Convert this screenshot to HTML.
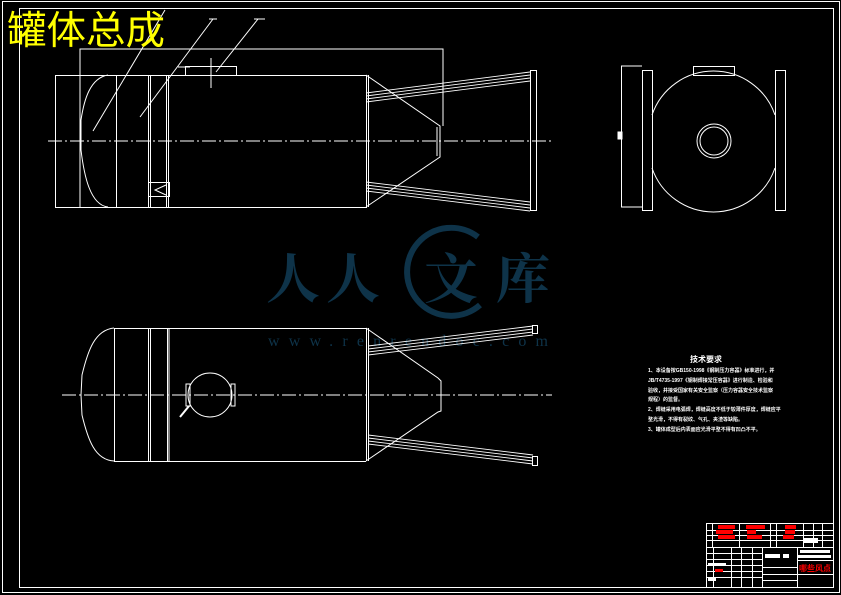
<!DOCTYPE html>
<html><head><meta charset="utf-8"><style>
html,body{margin:0;padding:0;background:#000;width:841px;height:595px;overflow:hidden}
svg{display:block}
</style></head><body>
<svg width="841" height="595" viewBox="0 0 841 595" xmlns="http://www.w3.org/2000/svg">
<rect width="841" height="595" fill="#000"/>
<!-- watermark -->
<g fill="#0e3349">
<path d="M478,237 A44,44 0 1 0 480,305" fill="none" stroke="#0e3349" stroke-width="6"/>
<g font-family="Noto Serif CJK SC, WenQuanYi Zen Hei, serif" font-size="54" font-weight="bold">
<text x="266" y="298">人</text>
<text x="326" y="298">人</text>
<text x="424" y="298">文</text>
<text x="496" y="298">库</text>
</g>
<text x="268" y="346" font-family="Liberation Serif, serif" font-size="16" textLength="280" lengthAdjust="spacing">www.renrendoc.com</text>
</g>
<g fill="none" stroke="#fff" stroke-width="1">
<!-- frames -->
<rect x="2.5" y="1.5" width="837" height="591"/>
<rect x="19.5" y="8.5" width="814" height="579"/>
<!-- leaders -->
<line x1="213" y1="19" x2="140" y2="117"/>
<line x1="258" y1="19" x2="216" y2="72"/>
<line x1="93" y1="131" x2="165" y2="10"/>
<line x1="209" y1="19" x2="217" y2="19"/>
<line x1="254" y1="19" x2="265" y2="19"/>
<!-- top view -->
<polyline points="80,208 80,49 443,49 443,126"/>
<rect x="55.5" y="75.5" width="311" height="132"/>
<path d="M108,75 C90,78 84,100 81,120 L81,150 C84,175 90,205 108,207"/>
<line x1="116.5" y1="75" x2="116.5" y2="207"/>
<line x1="148.5" y1="75" x2="148.5" y2="207"/>
<line x1="150.5" y1="75" x2="150.5" y2="207"/>
<line x1="166.5" y1="75" x2="166.5" y2="207"/>
<line x1="168.5" y1="75" x2="168.5" y2="207"/>
<rect x="148.5" y="182.5" width="21" height="14"/>
<polyline points="166,185 155,190 166,195"/>
<line x1="368.5" y1="75" x2="368.5" y2="207"/>
<polyline points="366,75 440,126 440,157 366,207"/>
<line x1="437" y1="127" x2="437" y2="156"/>
<rect x="185.5" y="66.5" width="51" height="9"/>
<line x1="178" y1="67" x2="190" y2="67"/>
<line x1="211" y1="58" x2="211" y2="88"/>
<g stroke-width="0.9">
<line x1="366" y1="93" x2="530" y2="72"/><line x1="366" y1="96" x2="530" y2="75"/>
<line x1="366" y1="99" x2="530" y2="78"/><line x1="366" y1="102" x2="530" y2="81"/>
<line x1="366" y1="182" x2="530" y2="202"/><line x1="366" y1="185" x2="530" y2="205"/>
<line x1="366" y1="188" x2="530" y2="208"/><line x1="366" y1="191" x2="530" y2="211"/>
</g>
<rect x="530.5" y="70.5" width="6" height="140"/>
<!-- side view -->
<polyline points="642,66 621.5,66 621.5,207 642,207"/>
<rect x="642.5" y="70.5" width="10" height="140"/>
<rect x="775.5" y="70.5" width="10" height="140"/>
<path d="M652,115 A65,65 0 0 1 775,115"/>
<path d="M652,168 A65,65 0 0 0 775,168"/>
<circle cx="714" cy="141" r="17"/>
<circle cx="714" cy="141" r="14"/>
<rect x="693.5" y="66.5" width="41" height="9"/>
<rect x="618" y="132" width="4" height="7" fill="#fff"/>
<!-- bottom view -->
<path d="M114,328 C95,330 88,350 82,375 L81,395 L82,415 C88,440 95,460 114,461"/>
<line x1="114" y1="328.5" x2="366" y2="328.5"/>
<line x1="114" y1="461.5" x2="366" y2="461.5"/>
<line x1="114.5" y1="328" x2="114.5" y2="461"/>
<line x1="148.5" y1="328" x2="148.5" y2="461"/>
<line x1="150.5" y1="328" x2="150.5" y2="461"/>
<line x1="167.5" y1="328" x2="167.5" y2="461"/>
<line x1="169" y1="328" x2="169" y2="461"/>
<line x1="366.5" y1="328" x2="366.5" y2="461"/>
<line x1="368.5" y1="328" x2="368.5" y2="461"/>
<polyline points="366,328 438,378 441,381 441,411 438,412 366,461"/>
<circle cx="210" cy="395" r="22"/>
<rect x="186" y="384" width="4" height="22"/>
<rect x="231" y="384" width="4" height="22"/>
<line x1="189" y1="406" x2="180" y2="417" stroke-width="2"/>
<g stroke-width="0.9">
<line x1="368" y1="346" x2="533" y2="326"/><line x1="368" y1="349" x2="533" y2="329"/>
<line x1="368" y1="352" x2="533" y2="332"/><line x1="368" y1="355" x2="533" y2="335"/>
<line x1="368" y1="435" x2="533" y2="455"/><line x1="368" y1="438" x2="533" y2="458"/>
<line x1="368" y1="441" x2="533" y2="461"/><line x1="368" y1="444" x2="533" y2="464"/>
</g>
<rect x="532.5" y="325.5" width="5" height="8"/>
<rect x="532.5" y="456.5" width="5" height="9"/>
<!-- center lines -->
<line x1="48" y1="141" x2="552" y2="141" stroke-dasharray="14,3,2,3"/>
<line x1="62" y1="395" x2="552" y2="395" stroke-dasharray="14,3,2,3"/>
<!-- title block -->
<rect x="706.5" y="523.5" width="127" height="64"/>
<line x1="706" y1="530.5" x2="833" y2="530.5"/>
<line x1="706" y1="535.5" x2="833" y2="535.5"/>
<line x1="706" y1="540.5" x2="833" y2="540.5"/>
<line x1="706" y1="547.5" x2="833" y2="547.5"/>
<line x1="712.5" y1="523" x2="712.5" y2="547"/>
<line x1="739.5" y1="523" x2="739.5" y2="547"/>
<line x1="770.5" y1="523" x2="770.5" y2="547"/>
<line x1="776.5" y1="523" x2="776.5" y2="547"/>
<line x1="803.5" y1="523" x2="803.5" y2="547"/>
<line x1="813.5" y1="523" x2="813.5" y2="547"/>
<line x1="822.5" y1="523" x2="822.5" y2="547"/>
<line x1="713.5" y1="547" x2="713.5" y2="587"/>
<line x1="731.5" y1="547" x2="731.5" y2="587"/>
<line x1="741.5" y1="547" x2="741.5" y2="587"/>
<line x1="752.5" y1="547" x2="752.5" y2="587"/>
<line x1="762.5" y1="547" x2="762.5" y2="587"/>
<line x1="797.5" y1="547" x2="797.5" y2="587"/>
<line x1="706" y1="553.5" x2="762" y2="553.5"/>
<line x1="706" y1="559.5" x2="762" y2="559.5"/>
<line x1="706" y1="565.5" x2="762" y2="565.5"/>
<line x1="706" y1="571.5" x2="762" y2="571.5"/>
<line x1="706" y1="577.5" x2="762" y2="577.5"/>
<line x1="762" y1="567.5" x2="797" y2="567.5"/>
<line x1="762" y1="574.5" x2="797" y2="574.5"/>
<line x1="762" y1="580.5" x2="797" y2="580.5"/>
<line x1="797" y1="560.5" x2="833" y2="560.5"/>
<line x1="797" y1="574.5" x2="833" y2="574.5"/>
</g>
<!-- title block fills -->
<g fill="#f00">
<rect x="718" y="525" width="17" height="4"/><rect x="716" y="530" width="17" height="4"/><rect x="718" y="535" width="17" height="4"/>
<rect x="746" y="525" width="19" height="4"/><rect x="747" y="530" width="9" height="4"/><rect x="747" y="535" width="15" height="4"/>
<rect x="785" y="525" width="11" height="4"/><rect x="785" y="530" width="10" height="4"/><rect x="783" y="535" width="11" height="4"/>
<rect x="715" y="569" width="8" height="3"/>
<text x="799" y="571" font-family="Liberation Sans, Noto Sans CJK SC, sans-serif" font-size="8" font-weight="bold">哪些风点</text>
</g>
<g fill="#fff">
<rect x="804" y="538" width="14" height="5"/>
<rect x="800" y="550" width="30" height="3"/><rect x="798" y="555" width="33" height="3"/>
<rect x="765" y="554" width="15" height="4"/><rect x="783" y="554" width="6" height="4"/>
<rect x="708" y="563" width="18" height="3"/><rect x="708" y="578" width="8" height="3"/>
</g>
<!-- title -->
<text x="7" y="44" fill="#ff0" font-family="Liberation Sans, Noto Sans CJK SC, WenQuanYi Zen Hei, sans-serif" font-size="39" textLength="158" lengthAdjust="spacingAndGlyphs">罐体总成</text>
<!-- technical requirements -->
<g fill="#fff" font-family="Liberation Sans, Noto Sans CJK SC, sans-serif" font-weight="bold">
<text x="690" y="362" font-size="8">技术要求</text>
<text x="648" y="372" font-size="5">1、本设备按GB150-1998《钢制压力容器》标准进行，并</text>
<text x="648" y="382" font-size="5">JB/T4735-1997《钢制焊接常压容器》进行制造、检验和</text>
<text x="648" y="392" font-size="5">验收，并接受国家有关安全监察（压力容器安全技术监察</text>
<text x="648" y="401" font-size="5">规程）的监督。</text>
<text x="648" y="411" font-size="5">2、焊缝采用电弧焊，焊缝高度不低于较薄件厚度，焊缝应平</text>
<text x="648" y="421" font-size="5">整光滑，不得有裂纹、气孔、夹渣等缺陷。</text>
<text x="648" y="431" font-size="5">3、罐体成型后内表面应光滑平整不得有凹凸不平。</text>
</g>
</svg>
</body></html>
